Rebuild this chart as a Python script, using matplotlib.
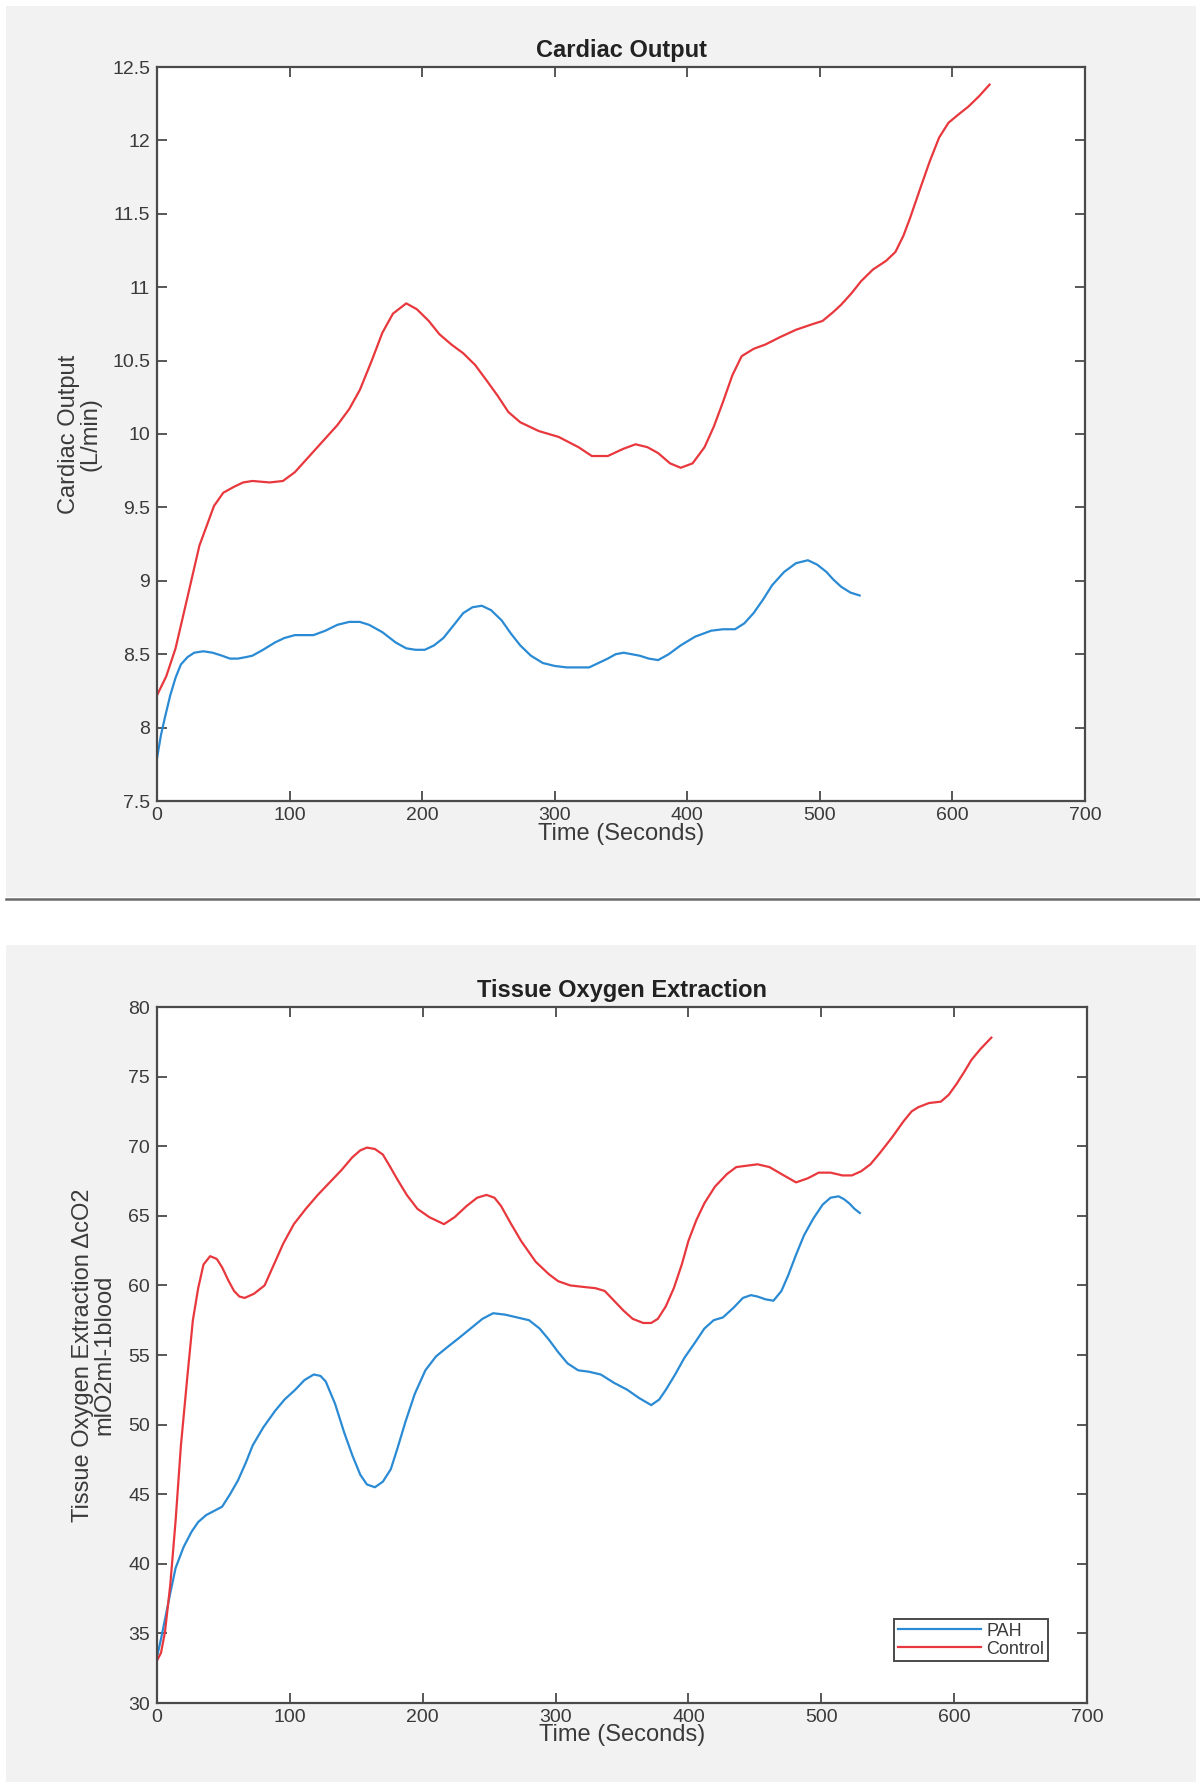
import matplotlib
matplotlib.use("Agg")
import matplotlib.pyplot as plt
from matplotlib.patches import Rectangle
from matplotlib.lines import Line2D

plt.rcParams['font.family'] = ['Liberation Sans', 'DejaVu Sans']

# ---------------- data: Cardiac Output ----------------
co_control_t = [0, 7, 14, 22, 32, 43, 50, 58, 65, 72, 85, 95, 104, 113, 125, 136, 145,
                153, 162, 170, 178, 188, 196, 205, 213, 222, 231, 240, 249, 257, 265,
                274, 288, 303, 318, 328, 340, 352, 361, 370, 378, 387, 395, 404, 413,
                420, 427, 434, 441, 450, 459, 470, 482, 495, 502, 510, 516, 524, 531,
                540, 550, 557, 563, 568, 576, 583, 590, 597, 605, 612, 620, 628]
co_control = [8.22, 8.35, 8.54, 8.85, 9.24, 9.51, 9.60, 9.64, 9.67, 9.68, 9.67, 9.68,
              9.74, 9.83, 9.95, 10.06, 10.17, 10.30, 10.50, 10.69, 10.82, 10.89, 10.85,
              10.77, 10.68, 10.61, 10.55, 10.47, 10.36, 10.26, 10.15, 10.08, 10.02,
              9.98, 9.91, 9.85, 9.85, 9.90, 9.93, 9.91, 9.87, 9.80, 9.77, 9.80, 9.91,
              10.05, 10.22, 10.40, 10.53, 10.58, 10.61, 10.66, 10.71, 10.75, 10.77,
              10.83, 10.88, 10.96, 11.04, 11.12, 11.18, 11.24, 11.35, 11.47, 11.68,
              11.86, 12.02, 12.12, 12.18, 12.23, 12.30, 12.38]

co_pah_t = [0, 3, 6, 10, 14, 18, 23, 28, 35, 42, 49, 55, 61, 67, 72, 80, 89, 96, 104,
            118, 127, 136, 145, 153, 160, 170, 180, 188, 195, 202, 209, 216, 224, 231,
            238, 245, 252, 260, 267, 274, 282, 291, 300, 309, 326, 333, 340, 346, 352,
            358, 364, 371, 378, 386, 395, 406, 418, 427, 436, 443, 450, 457, 464, 473,
            482, 491, 498, 505, 510, 516, 523, 530]
co_pah = [7.79, 7.95, 8.07, 8.22, 8.34, 8.43, 8.48, 8.51, 8.52, 8.51, 8.49, 8.47, 8.47,
          8.48, 8.49, 8.53, 8.58, 8.61, 8.63, 8.63, 8.66, 8.70, 8.72, 8.72, 8.70, 8.65,
          8.58, 8.54, 8.53, 8.53, 8.56, 8.61, 8.70, 8.78, 8.82, 8.83, 8.80, 8.73, 8.64,
          8.56, 8.49, 8.44, 8.42, 8.41, 8.41, 8.44, 8.47, 8.50, 8.51, 8.50, 8.49, 8.47,
          8.46, 8.50, 8.56, 8.62, 8.66, 8.67, 8.67, 8.71, 8.78, 8.87, 8.97, 9.06, 9.12,
          9.14, 9.11, 9.06, 9.01, 8.96, 8.92, 8.90]

# ---------------- data: Tissue Oxygen Extraction ----------------
toe_control_t = [0, 3, 6, 10, 14, 18, 23, 27, 31, 35, 40, 45, 49, 54, 58, 62, 66, 73,
                 81, 88, 95, 103, 112, 121, 130, 139, 147, 153, 158, 164, 170, 175, 181,
                 188, 196, 205, 216, 224, 233, 241, 248, 254, 259, 266, 274, 285, 295,
                 302, 311, 320, 330, 337, 344, 351, 358, 366, 372, 377, 383, 389, 395,
                 400, 406, 412, 420, 429, 436, 444, 452, 461, 470, 481, 490, 498, 507,
                 516, 523, 530, 537, 544, 553, 562, 568, 573, 581, 590, 596, 602, 608,
                 613, 620, 628]
toe_control = [33.05, 33.6, 35.1, 38.5, 43.1, 48.5, 53.6, 57.5, 59.8, 61.5, 62.1, 61.9,
               61.3, 60.3, 59.6, 59.2, 59.1, 59.4, 60.0, 61.5, 63.0, 64.4, 65.5, 66.5,
               67.4, 68.3, 69.2, 69.7, 69.9, 69.8, 69.4, 68.6, 67.6, 66.5, 65.5, 64.9,
               64.4, 64.9, 65.7, 66.3, 66.5, 66.3, 65.7, 64.5, 63.2, 61.7, 60.8, 60.3,
               60.0, 59.9, 59.8, 59.6, 58.9, 58.2, 57.6, 57.3, 57.3, 57.6, 58.5, 59.8,
               61.5, 63.2, 64.7, 65.9, 67.1, 68.0, 68.5, 68.6, 68.7, 68.5, 68.0, 67.4,
               67.7, 68.1, 68.1, 67.9, 67.9, 68.2, 68.7, 69.5, 70.6, 71.8, 72.5, 72.8,
               73.1, 73.2, 73.7, 74.5, 75.4, 76.2, 77.0, 77.8]

toe_pah_t = [0, 3, 6, 10, 14, 20, 26, 31, 37, 43, 49, 55, 61, 67, 72, 80, 89, 96, 104,
             111, 118, 123, 127, 134, 141, 147, 153, 158, 164, 170, 176, 181, 187, 194,
             202, 210, 219, 227, 236, 245, 253, 262, 271, 280, 288, 295, 302, 309, 317,
             325, 334, 344, 354, 363, 372, 378, 383, 390, 397, 405, 412, 419, 426, 434,
             441, 447, 452, 458, 464, 470, 475, 481, 487, 494, 501, 507, 513, 517, 521,
             525, 529]
toe_pah = [33.3, 34.6, 36.0, 37.9, 39.7, 41.2, 42.3, 43.0, 43.5, 43.8, 44.1, 45.0, 46.0,
           47.3, 48.5, 49.8, 51.0, 51.8, 52.5, 53.2, 53.6, 53.5, 53.1, 51.5, 49.4, 47.8,
           46.4, 45.7, 45.5, 45.9, 46.8, 48.3, 50.2, 52.2, 53.9, 54.9, 55.6, 56.2, 56.9,
           57.6, 58.0, 57.9, 57.7, 57.5, 56.9, 56.1, 55.2, 54.4, 53.9, 53.8, 53.6, 53.0,
           52.5, 51.9, 51.4, 51.8, 52.5, 53.6, 54.8, 55.9, 56.9, 57.5, 57.7, 58.4, 59.1,
           59.3, 59.2, 59.0, 58.9, 59.6, 60.7, 62.2, 63.6, 64.8, 65.8, 66.3, 66.4, 66.2,
           65.9, 65.5, 65.2]

x_ticks = [0, 100, 200, 300, 400, 500, 600, 700]
co_yticks = [7.5, 8, 8.5, 9, 9.5, 10, 10.5, 11, 11.5, 12, 12.5]
co_yticklabels = ['7.5', '8', '8.5', '9', '9.5', '10', '10.5', '11', '11.5', '12', '12.5']
toe_yticks = [30, 35, 40, 45, 50, 55, 60, 65, 70, 75, 80]
legend_labels = ['PAH', 'Control']

BLUE = '#2a8bd4'
RED = '#e8383d'
SPINE = '#4a4a4a'
TXT = '#3a3a3a'
GRAY_BG = '#f2f2f2'

W, H = 1200, 1791
fig = plt.figure(figsize=(W / 100, H / 100), dpi=100)
fig.patch.set_facecolor('white')

def px_rect(x0, y0, x1, y1, color):
    fig.patches.append(Rectangle((x0 / W, 1 - y1 / H), (x1 - x0) / W, (y1 - y0) / H,
                                 transform=fig.transFigure, facecolor=color,
                                 edgecolor='none', zorder=-10))

px_rect(6, 6, 1196, 897, GRAY_BG)
px_rect(6, 945, 1196, 1782, GRAY_BG)
fig.lines.append(Line2D([6 / W, 1200 / W], [1 - 899 / H, 1 - 899 / H],
                        transform=fig.transFigure, color='#6a6a6a', lw=1.8, zorder=-5))


def style(ax):
    for s in ax.spines.values():
        s.set_color(SPINE)
        s.set_linewidth(1.6)
    ax.tick_params(direction='in', length=7, width=1.3, color=SPINE,
                   top=True, right=True, labelsize=14, labelcolor=TXT)
    ax.tick_params(axis='x', pad=4)
    ax.tick_params(axis='y', pad=5)
    ax.set_facecolor('white')


# ---------------- top axes ----------------
ax1 = fig.add_axes([157 / W, 1 - 801 / H, 928 / W, 734 / H])
ax1.plot(co_pah_t, co_pah, color=BLUE, lw=1.6)
ax1.plot(co_control_t, co_control, color=RED, lw=1.6)
ax1.set_xlim(0, 700)
ax1.set_ylim(7.5, 12.5)
ax1.set_xticks(x_ticks)
ax1.set_yticks(co_yticks)
ax1.set_yticklabels(co_yticklabels)
style(ax1)
ax1.set_title('Cardiac Output', fontsize=17, fontweight='bold', color='#222222', pad=7)
ax1.set_xlabel('Time (Seconds)', fontsize=17, color=TXT)
ax1.xaxis.set_label_coords(0.5, -0.030)
ax1.set_ylabel('Cardiac Output\n(L/min)', fontsize=17, color=TXT, linespacing=0.95)
ax1.yaxis.set_label_coords(-0.060, 0.5)

# ---------------- bottom axes ----------------
ax2 = fig.add_axes([157 / W, 1 - 1703 / H, 930 / W, 696 / H])
ax2.plot(toe_pah_t, toe_pah, color=BLUE, lw=1.6, label=legend_labels[0])
ax2.plot(toe_control_t, toe_control, color=RED, lw=1.6, label=legend_labels[1])
ax2.set_xlim(0, 700)
ax2.set_ylim(30, 80)
ax2.set_xticks(x_ticks)
ax2.set_yticks(toe_yticks)
style(ax2)
ax2.set_title('Tissue Oxygen Extraction', fontsize=17, fontweight='bold', color='#222222', pad=7)
ax2.set_xlabel('Time (Seconds)', fontsize=17, color=TXT)
ax2.xaxis.set_label_coords(0.5, -0.030)
ax2.set_ylabel('Tissue Oxygen Extraction ΔcO2\nmlO2ml-1blood', fontsize=17, color=TXT,
               linespacing=0.95)
ax2.yaxis.set_label_coords(-0.045, 0.5)
leg = ax2.legend(loc='lower right', bbox_to_anchor=(0.958, 0.060), borderaxespad=0,
                 fontsize=13, handlelength=4.6, handletextpad=0.3, labelspacing=0.05,
                 borderpad=0.2, fancybox=False, framealpha=1, edgecolor=SPINE)
leg.get_frame().set_linewidth(1.4)
for t in leg.get_texts():
    t.set_color(TXT)

fig.savefig('out.png', dpi=100, facecolor=fig.get_facecolor())
